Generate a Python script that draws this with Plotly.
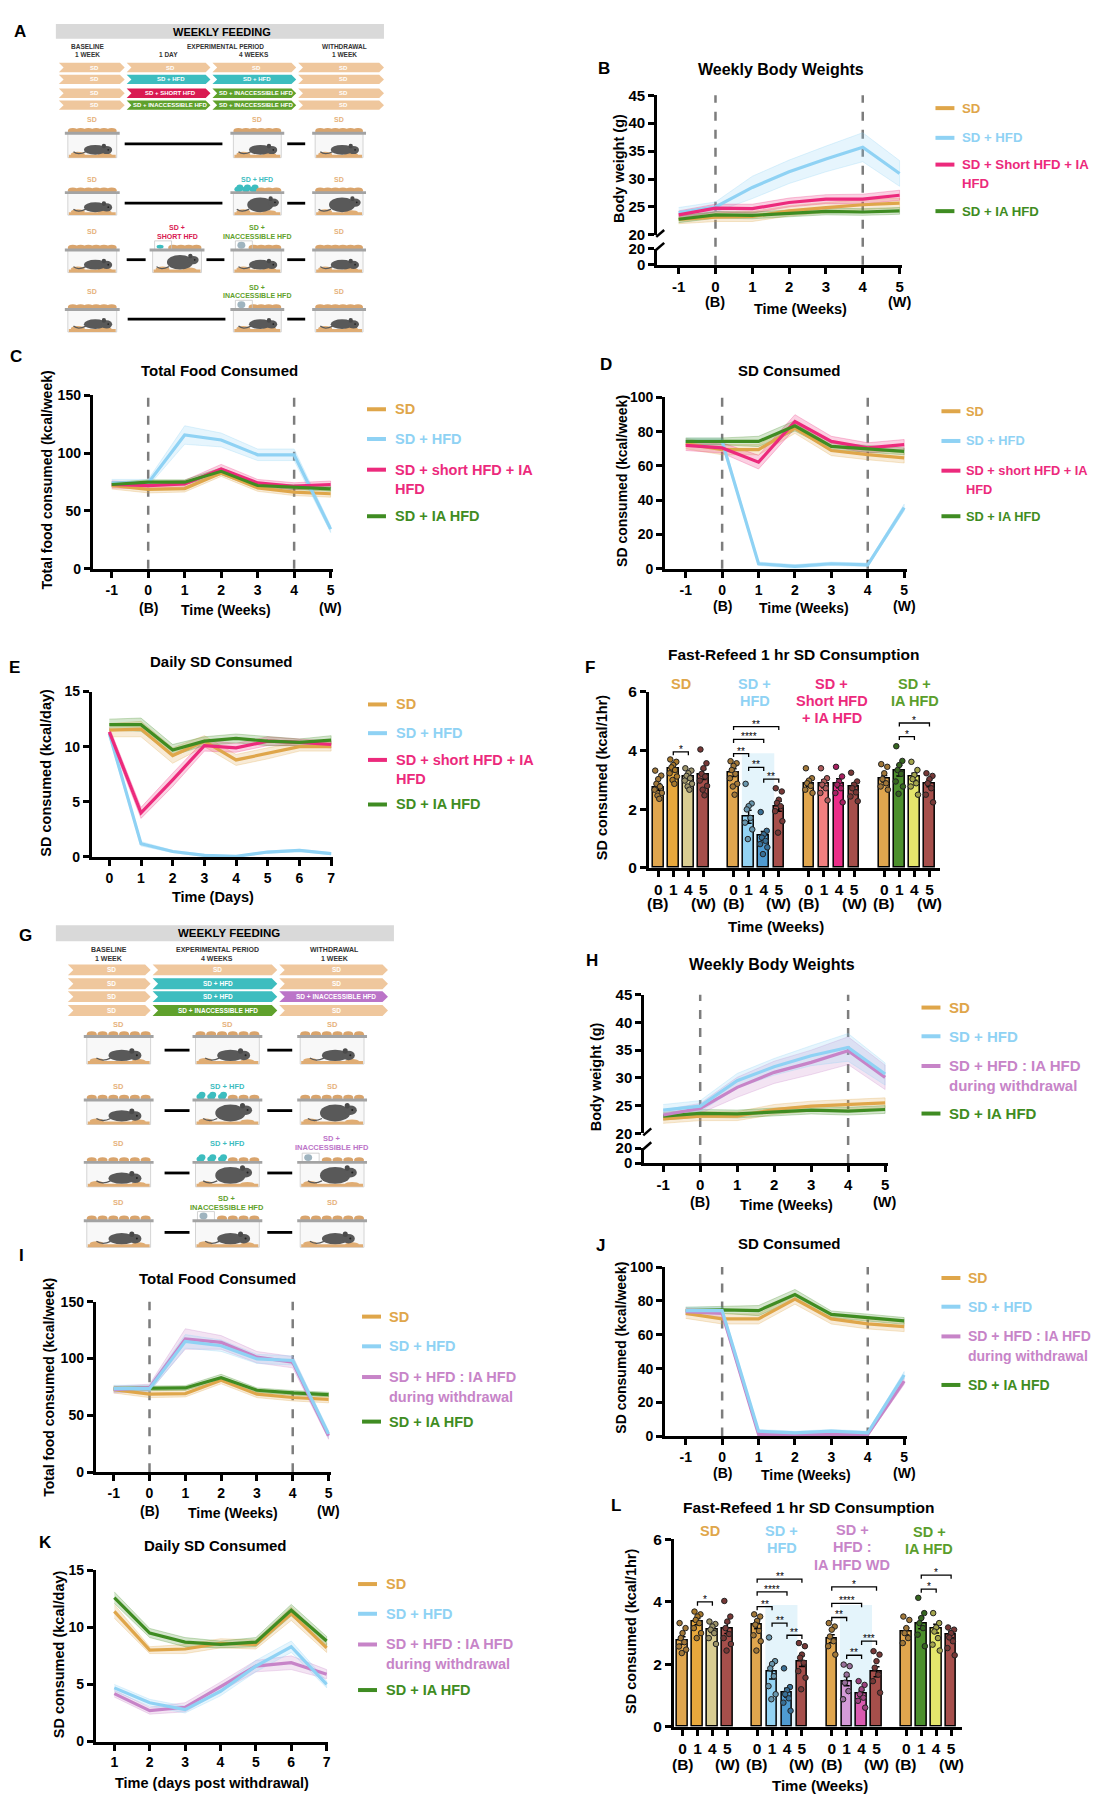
import plotly.graph_objects as go

# ---------------- data ----------------
WEEKS = [-1, 0, 1, 2, 3, 4, 5]
DAYS_E = [0, 1, 2, 3, 4, 5, 6, 7]
DAYS_K = [1, 2, 3, 4, 5, 6, 7]

# B: weekly body weights (g)
B_SD = [22.8, 23.2, 23.3, 24.3, 24.9, 25.4, 25.7]
B_SD_ERR = [0.8, 0.8, 0.9, 0.9, 0.9, 0.9, 0.9]
B_HFD = [24.0, 25.0, 28.5, 31.3, 33.6, 35.7, 31.0]
B_HFD_ERR = [0.9, 0.9, 2.0, 2.1, 2.3, 2.6, 2.3]
B_PINK = [23.6, 24.8, 24.7, 25.8, 26.4, 26.4, 27.1]
B_PINK_ERR = [0.7, 0.7, 0.8, 0.8, 0.8, 0.9, 0.9]
B_GREEN = [22.8, 23.6, 23.5, 23.9, 24.2, 24.1, 24.3]
B_GREEN_ERR = [0.6, 0.6, 0.6, 0.6, 0.6, 0.6, 0.6]

# C: total food consumed (kcal/week)
C_SD = [72.0, 68.6, 69.4, 82.9, 70.0, 66.3, 64.9]
C_SD_ERR = [3, 3, 3, 3, 3, 3, 3]
C_HFD = [74.3, 74.3, 115.7, 111.4, 98.6, 98.6, 34.3]
C_HFD_ERR = [3, 3, 8, 6, 5, 5, 3]
C_PINK = [72.9, 72.0, 73.4, 86.3, 74.3, 71.4, 72.9]
C_PINK_ERR = [3, 3, 3, 4, 3, 3, 3]
C_GREEN = [72.9, 74.9, 74.9, 84.3, 72.0, 70.6, 69.1]
C_GREEN_ERR = [2, 2, 2, 3, 2, 2, 2]

# D: SD consumed (kcal/week)
D_SD = [73.0, 69.5, 69.5, 82.0, 69.0, 66.6, 64.7]
D_SD_ERR = [3, 3, 3, 3, 3, 3, 3]
D_HFD = [74.3, 74.3, 2.9, 1.4, 2.9, 2.3, 35.7]
D_HFD_ERR = [2, 2, 1, 1, 1, 1, 2]
D_PINK = [72.0, 70.5, 62.2, 85.9, 74.3, 70.5, 72.4]
D_PINK_ERR = [3, 3, 4, 4, 3, 3, 3]
D_GREEN = [74.3, 74.3, 74.3, 83.4, 71.4, 69.9, 68.5]
D_GREEN_ERR = [2, 2, 3, 3, 2, 2, 2]

# E: daily SD consumed (kcal/day)
E_SD = [11.5, 11.6, 9.2, 10.5, 8.8, 9.4, 10.0, 10.0]
E_SD_ERR = [0.6, 0.7, 0.7, 0.5, 0.5, 0.5, 0.4, 0.4]
E_HFD = [11.2, 1.2, 0.5, 0.15, 0.06, 0.45, 0.6, 0.3]
E_HFD_ERR = [0.3, 0.2, 0.1, 0.1, 0.05, 0.1, 0.1, 0.1]
E_PINK = [11.35, 4.0, 7.0, 10.1, 9.9, 10.5, 10.4, 10.2]
E_PINK_ERR = [0.4, 0.5, 0.6, 0.5, 0.4, 0.4, 0.3, 0.3]
E_GREEN = [12.0, 12.0, 9.7, 10.5, 10.75, 10.5, 10.4, 10.6]
E_GREEN_ERR = [0.5, 0.6, 0.5, 0.4, 0.4, 0.4, 0.3, 0.4]

# H: weekly body weights (g)
H_SD = [22.6, 23.1, 23.1, 24.3, 24.9, 25.2, 25.5]
H_SD_ERR = [0.8, 0.8, 0.8, 0.9, 0.9, 0.9, 0.9]
H_HFD = [24.2, 24.9, 29.5, 32.0, 34.0, 35.5, 30.7]
H_HFD_ERR = [1.0, 1.0, 1.3, 1.5, 1.8, 2.5, 2.0]
H_PURPLE = [23.3, 24.5, 28.3, 31.0, 32.8, 34.9, 30.1]
H_PURPLE_ERR = [0.9, 0.9, 1.8, 2.0, 2.2, 2.5, 2.2]
H_GREEN = [23.1, 23.6, 23.5, 23.9, 24.2, 24.0, 24.3]
H_GREEN_ERR = [0.7, 0.7, 0.7, 0.7, 0.7, 0.7, 0.7]

# I: total food consumed (kcal/week)
I_SD = [72.7, 68.6, 69.2, 80.8, 68.6, 65.7, 64.0]
I_SD_ERR = [3, 3, 3, 3, 3, 3, 3]
I_HFD = [73.5, 73.5, 115.1, 111.3, 99.7, 98.3, 33.7]
I_HFD_ERR = [3, 3, 6, 5, 4, 4, 3]
I_PURPLE = [72.7, 74.4, 117.2, 114.2, 101.2, 96.8, 32.0]
I_PURPLE_ERR = [3, 3, 9, 6, 5, 5, 3]
I_GREEN = [73.5, 74.1, 74.1, 83.1, 72.1, 69.8, 68.3]
I_GREEN_ERR = [2, 2, 2, 3, 2, 2, 2]

# J: SD consumed (kcal/week)
J_SD = [72.7, 69.4, 69.4, 81.1, 69.4, 66.5, 64.9]
J_SD_ERR = [3, 3, 3, 3, 3, 3, 3]
J_HFD = [74.3, 74.3, 3.1, 2.1, 3.1, 2.1, 36.3]
J_HFD_ERR = [2, 2, 1, 1, 1, 1, 2]
J_PURPLE = [73.7, 72.7, 1.2, 1.2, 1.2, 1.2, 32.7]
J_PURPLE_ERR = [2, 2, 1, 1, 1, 1, 2]
J_GREEN = [74.3, 74.7, 74.3, 83.8, 72.1, 70.2, 68.2]
J_GREEN_ERR = [2, 2, 3, 3, 2, 2, 2]

# K: daily SD consumed post withdrawal (kcal/day)
K_SD = [11.4, 8.0, 8.1, 8.6, 8.5, 11.2, 8.2]
K_SD_ERR = [0.6, 0.3, 0.4, 0.4, 0.4, 0.6, 0.4]
K_HFD = [4.7, 3.4, 2.8, 4.4, 6.6, 8.3, 5.0]
K_HFD_ERR = [0.3, 0.3, 0.3, 0.4, 0.5, 0.5, 0.3]
K_PURPLE = [4.2, 2.7, 3.0, 4.8, 6.6, 6.9, 5.9]
K_PURPLE_ERR = [0.3, 0.3, 0.4, 0.4, 0.5, 0.6, 0.4]
K_GREEN = [12.6, 9.5, 8.7, 8.5, 8.7, 11.5, 8.8]
K_GREEN_ERR = [0.5, 0.4, 0.4, 0.3, 0.4, 0.5, 0.4]

# F / L: fast-refeed 1 hr SD consumption (kcal/1hr), 4 groups x weeks 0,1,4,5
BAR_WEEKS = ["0", "1", "4", "5"]
F_MEANS = [[2.75, 3.39, 3.10, 3.18], [3.24, 1.74, 1.09, 2.10],
           [2.88, 2.86, 2.88, 2.77], [3.03, 3.31, 3.10, 2.88]]
F_SEMS = [[0.12, 0.11, 0.08, 0.17], [0.13, 0.22, 0.15, 0.17],
          [0.10, 0.13, 0.15, 0.11], [0.11, 0.18, 0.12, 0.12]]
F_DOTS = [
    [[3.31, 3.14, 3.02, 2.86, 2.77, 2.66, 2.55, 2.46, 2.35],
     [3.69, 3.61, 3.50, 3.42, 3.33, 3.22, 3.11, 2.99, 2.86],
     [3.39, 3.31, 3.22, 3.13, 3.05, 2.97, 2.86, 2.77, 2.66],
     [4.03, 3.56, 3.39, 3.20, 3.11, 2.97, 2.79, 2.66, 2.47]],
    [[3.63, 3.56, 3.47, 3.33, 3.20, 3.05, 2.86, 2.77, 2.49],
     [2.86, 2.19, 2.10, 1.99, 1.70, 1.54, 1.31, 0.98],
     [1.90, 1.26, 1.14, 1.03, 0.92, 0.81, 0.70, 0.47],
     [2.71, 2.60, 2.32, 2.21, 2.10, 1.93, 1.59, 1.20]],
    [[3.39, 3.05, 2.97, 2.88, 2.79, 2.66, 2.55],
     [3.39, 3.05, 2.94, 2.83, 2.71, 2.55, 2.30],
     [3.44, 3.11, 2.94, 2.83, 2.71, 2.55, 2.23],
     [3.24, 2.94, 2.83, 2.71, 2.57, 2.43, 2.27]],
    [[3.53, 3.44, 3.22, 3.02, 2.88, 2.77, 2.66],
     [4.14, 3.64, 3.50, 3.33, 3.20, 2.94, 2.77, 2.52],
     [3.61, 3.33, 3.16, 3.02, 2.88, 2.77, 2.49],
     [3.22, 3.13, 3.02, 2.88, 2.71, 2.49, 2.23]],
]
F_BRACKETS = [(0, 1, 2, 3.95, "*"), (1, 0, 1, 3.89, "**"), (1, 0, 2, 4.37, "****"),
              (1, 0, 3, 4.81, "**"), (1, 1, 2, 3.42, "**"), (1, 2, 3, 3.02, "**"),
              (3, 1, 2, 4.47, "*"), (3, 1, 3, 4.93, "*")]

L_MEANS = [[2.76, 3.37, 3.10, 3.16], [3.27, 1.76, 1.09, 2.10],
           [2.82, 1.46, 1.06, 1.76], [3.05, 3.32, 3.14, 2.95]]
L_SEMS = [[0.12, 0.10, 0.08, 0.17], [0.13, 0.23, 0.14, 0.17],
          [0.13, 0.15, 0.10, 0.16], [0.11, 0.18, 0.14, 0.11]]
L_DOTS = [
    [[3.32, 3.16, 3.00, 2.84, 2.71, 2.57, 2.47, 2.36],
     [3.69, 3.60, 3.53, 3.42, 3.32, 3.16, 3.00, 2.84],
     [3.37, 3.29, 3.21, 3.11, 3.00, 2.84, 2.65],
     [4.03, 3.53, 3.37, 3.16, 2.97, 2.84, 2.65, 2.44]],
    [[3.60, 3.53, 3.39, 3.27, 3.07, 2.93, 2.74, 2.44],
     [2.86, 2.10, 2.01, 1.87, 1.62, 1.30, 1.04, 0.88],
     [1.87, 1.27, 1.17, 1.04, 0.91, 0.77, 0.51],
     [2.68, 2.58, 2.31, 2.21, 2.05, 1.78, 1.57, 1.20]],
    [[3.32, 3.21, 3.11, 2.89, 2.74, 2.58, 2.31],
     [1.99, 1.94, 1.67, 1.41, 1.14, 0.88],
     [1.46, 1.34, 1.20, 1.04, 0.93, 0.83, 0.61],
     [2.42, 2.31, 2.10, 1.89, 1.67, 1.46, 1.09]],
    [[3.53, 3.42, 3.16, 3.00, 2.84, 2.68],
     [4.13, 3.64, 3.48, 3.32, 3.16, 2.95, 2.58],
     [3.64, 3.32, 3.18, 3.05, 2.84, 2.63, 2.44],
     [3.18, 3.11, 3.00, 2.86, 2.74, 2.52, 2.29]],
]
L_BRACKETS = [(0, 1, 2, 4.00, "*"), (1, 0, 1, 3.85, "**"), (1, 0, 2, 4.32, "****"),
              (1, 0, 3, 4.73, "**"), (1, 1, 2, 3.32, "**"), (1, 2, 3, 2.93, "**"),
              (2, 0, 1, 3.50, "**"), (2, 0, 2, 3.95, "****"), (2, 0, 3, 4.48, "*"),
              (2, 1, 2, 2.29, "**"), (2, 2, 3, 2.74, "***"),
              (3, 1, 2, 4.41, "*"), (3, 1, 3, 4.86, "*")]

LEG_B = [["SD"], ["SD + HFD"], ["SD + Short HFD + IA", "HFD"], ["SD + IA HFD"]]
LEG_CDE = [["SD"], ["SD + HFD"], ["SD + short HFD + IA", "HFD"], ["SD + IA HFD"]]
LEG_WD = [["SD"], ["SD + HFD"], ["SD + HFD : IA HFD", "during withdrawal"], ["SD + IA HFD"]]
F_GROUPS = [["SD"], ["SD +", "HFD"], ["SD +", "Short HFD", "+ IA HFD"], ["SD +", "IA HFD"]]
L_GROUPS = [["SD"], ["SD +", "HFD"], ["SD +", "HFD :", "IA HFD WD"], ["SD +", "IA HFD"]]

# ---------------- style ----------------
W, H = 1102, 1800
FONT = "Liberation Sans, Arial, Helvetica, sans-serif"
CLR_SD = "#dfa64a"
CLR_HFD = "#8fd2f4"
CLR_PINK = "#ec2a7c"
CLR_GREEN = "#3f8c22"
CLR_PURPLE = "#c784c8"
TAN = "#efc79d"
TANTXT = "#e6b27c"
TEAL = "#3dbdbf"
CRIMSON = "#d91a52"
LGREEN = "#5fa12c"
ORCHID = "#bb74c8"
F_COLORS = [["#e0a64e", "#e8a83c", "#d9cd92", "#a64f4b"],
            ["#e0a64e", "#93d3f3", "#4f9bd1", "#a64f4b"],
            ["#e0a64e", "#f27f7f", "#ea2d88", "#a64f4b"],
            ["#e0a64e", "#4c8f2c", "#e5e66c", "#a64f4b"]]
L_COLORS = [["#e0a64e", "#e8a83c", "#d9cd92", "#a64f4b"],
            ["#e0a64e", "#93d3f3", "#4f9bd1", "#a64f4b"],
            ["#e0a64e", "#d49bd8", "#da5bb1", "#a64f4b"],
            ["#e0a64e", "#4c8f2c", "#e5e66c", "#a64f4b"]]
F_GROUP_COLORS = [CLR_SD, CLR_HFD, CLR_PINK, "#5a9e2c"]
L_GROUP_COLORS = [CLR_SD, CLR_HFD, CLR_PURPLE, "#5a9e2c"]
LEG_COLORS_1 = [CLR_SD, CLR_HFD, CLR_PINK, CLR_GREEN]
LEG_COLORS_2 = [CLR_SD, CLR_HFD, CLR_PURPLE, CLR_GREEN]


def X(v):
    return v / W


def Y(v):
    return 1 - v / H


def rgba(hexc, a):
    h = hexc.lstrip("#")
    r, g, b = int(h[0:2], 16), int(h[2:4], 16), int(h[4:6], 16)
    return f"rgba({r},{g},{b},{a})"


def darker(hexc, f=0.72):
    h = hexc.lstrip("#")
    r, g, b = int(h[0:2], 16), int(h[2:4], 16), int(h[4:6], 16)
    return f"rgb({int(r*f)},{int(g*f)},{int(b*f)})"


fig = go.Figure()
layout = {}
shapes = []
annots = []
nax = [0]


def new_id():
    nax[0] += 1
    return nax[0]


def xa(n):
    return "xaxis" if n == 1 else f"xaxis{n}"


def ya(n):
    return "yaxis" if n == 1 else f"yaxis{n}"


def xr(n):
    return "x" if n == 1 else f"x{n}"


def yr(n):
    return "y" if n == 1 else f"y{n}"


def text(x, y, s, size=14, color="black", bold=True, xanchor="center",
         yanchor="middle", angle=0):
    annots.append(dict(x=X(x), y=Y(y), xref="paper", yref="paper",
                       text=f"<b>{s}</b>" if bold else s, showarrow=False,
                       font=dict(family=FONT, size=size, color=color),
                       xanchor=xanchor, yanchor=yanchor, textangle=angle,
                       borderpad=0))


def rect(x0, y0, x1, y1, fill, line=None, lw=0, layer="above"):
    shapes.append(dict(type="rect", xref="paper", yref="paper", x0=X(x0), x1=X(x1),
                       y0=Y(y1), y1=Y(y0), fillcolor=fill,
                       line=dict(color=line or fill, width=lw), layer=layer))


def oval(x0, y0, x1, y1, fill):
    shapes.append(dict(type="circle", xref="paper", yref="paper", x0=X(x0), x1=X(x1),
                       y0=Y(y1), y1=Y(y0), fillcolor=fill, line=dict(width=0)))


def seg(x0, y0, x1, y1, color="black", w=2.5, dash=None):
    ln = dict(color=color, width=w)
    if dash:
        ln["dash"] = dash
    shapes.append(dict(type="line", xref="paper", yref="paper", x0=X(x0), x1=X(x1),
                       y0=Y(y0), y1=Y(y1), line=ln))


def axis_style(tickvals, ticktext, size=14):
    return dict(showline=True, linewidth=3, linecolor="black", ticks="outside",
                ticklen=6, tickwidth=2.5, tickcolor="black", tickvals=tickvals,
                ticktext=[f"<b>{t}</b>" for t in ticktext],
                tickfont=dict(family=FONT, size=size, color="black"),
                showgrid=False, zeroline=False, fixedrange=True)


def line_panel(ax_x, xt, ybox, yticks, series, xticks, vlines, lower=None, fs=14):
    p0, v0, p1, v1, right = xt
    ybot, vb, ytop, vt = ybox
    n = new_id()
    unit = (p1 - p0) / (v1 - v0)
    xrng = [v0 - (p0 - ax_x) / unit, v1 + (right - p1) / unit]
    xdom = [X(ax_x), X(right)]
    layout[xa(n)] = dict(domain=xdom, range=xrng, anchor=yr(n),
                         **axis_style(xticks, [str(v) for v in xticks], fs))
    if lower is None:
        layout[ya(n)] = dict(domain=[Y(ybot), Y(ytop)], range=[vb, vt], anchor=xr(n),
                             **axis_style(yticks, [str(v) for v in yticks], fs))
        dx, dy = xr(n), yr(n)
        base = ybot
    else:
        lb, lvb, lt, lvt, lticks = lower
        layout[ya(n)] = dict(domain=[Y(lb), Y(lt)], range=[lvb, lvt], anchor=xr(n),
                             **axis_style(lticks, [str(v) for v in lticks], fs))
        fig.add_trace(go.Scatter(x=[xrng[0]], y=[lvb - 5], mode="markers",
                                 marker=dict(opacity=0), xaxis=xr(n), yaxis=yr(n),
                                 hoverinfo="skip", showlegend=False))
        m = new_id()
        layout[xa(m)] = dict(domain=xdom, range=xrng, anchor=yr(m), visible=False,
                             fixedrange=True)
        layout[ya(m)] = dict(domain=[Y(ybot), Y(ytop)], range=[vb, vt], anchor=xr(m),
                             **axis_style(yticks, [str(v) for v in yticks], fs))
        dx, dy = xr(m), yr(m)
        base = lb
        seg(ax_x - 1, ybot + 2, ax_x + 7, ybot - 5, "black", 2.5)
        seg(ax_x - 1, lt + 1, ax_x + 7, lt - 6, "black", 2.5)
    for v in vlines:
        shapes.append(dict(type="line", xref=dx, yref="paper", x0=v, x1=v,
                           y0=Y(base), y1=Y(ytop), layer="below",
                           line=dict(color="#7d7d7d", width=2.5, dash="dash")))
    for xs, ys, es, color in series:
        up = [a + e for a, e in zip(ys, es)]
        lo = [a - e for a, e in zip(ys, es)]
        fig.add_trace(go.Scatter(x=list(xs) + list(xs)[::-1], y=up + lo[::-1],
                                 fill="toself", fillcolor=rgba(color, 0.22),
                                 line=dict(color=rgba(color, 0.35), width=0.8),
                                 mode="lines", xaxis=dx, yaxis=dy,
                                 hoverinfo="skip", showlegend=False))
    for xs, ys, es, color in series:
        fig.add_trace(go.Scatter(x=xs, y=ys, mode="lines",
                                 line=dict(color=color, width=3.2),
                                 xaxis=dx, yaxis=dy, showlegend=False))
    return n


def legend(lx0, tx, ys, labels, colors, size=14.5):
    for yy, lines, color in zip(ys, labels, colors):
        seg(lx0, yy[0], lx0 + 19, yy[0], color, 4)
        for y1, t in zip(yy, lines):
            text(tx, y1, t, size, color, xanchor="left")


DOT_OFFS = [-0.2, 0.2, 0.0, -0.12, 0.12, -0.24, 0.24, -0.05, 0.07]


def bar_panel(ax_x, x0px, unit, right, ybot, ytop, means, sems, dots, colors,
              brackets, shades, bw_y):
    n = new_id()
    xrng = [(ax_x - x0px) / unit, (right - x0px) / unit]
    tv, tt = [], []
    for g in range(4):
        for j in range(4):
            tv.append(5 * g + j)
            tt.append(BAR_WEEKS[j])
    layout[xa(n)] = dict(domain=[X(ax_x), X(right)], range=xrng, anchor=yr(n),
                         **axis_style(tv, tt, 15.5))
    layout[ya(n)] = dict(domain=[Y(ybot), Y(ytop)], range=[0, 6], anchor=xr(n),
                         **axis_style([0, 2, 4, 6], ["0", "2", "4", "6"], 15.5))
    for g in shades:
        shapes.append(dict(type="rect", xref=xr(n), yref=yr(n), x0=5 * g + 0.55,
                           x1=5 * g + 2.7, y0=0, y1=3.9, fillcolor="#e4f4fb",
                           line=dict(width=0), layer="below"))
    xs, ms, ss, cs = [], [], [], []
    for g in range(4):
        for j in range(4):
            xs.append(5 * g + j)
            ms.append(means[g][j])
            ss.append(sems[g][j])
            cs.append(colors[g][j])
    fig.add_trace(go.Bar(x=xs, y=ms, width=0.7,
                         marker=dict(color=cs, line=dict(color="black", width=1.5)),
                         error_y=dict(type="data", array=ss, color="black",
                                      thickness=1.5, width=3),
                         xaxis=xr(n), yaxis=yr(n), showlegend=False))
    dx, dyv, dc = [], [], []
    for g in range(4):
        for j in range(4):
            for k, v in enumerate(dots[g][j]):
                dx.append(5 * g + j + DOT_OFFS[k % len(DOT_OFFS)])
                dyv.append(v)
                dc.append(darker(colors[g][j]))
    fig.add_trace(go.Scatter(x=dx, y=dyv, mode="markers",
                             marker=dict(size=5.5, color=dc,
                                         line=dict(color="#222", width=1)),
                             xaxis=xr(n), yaxis=yr(n), showlegend=False))
    for g, j1, j2, yv, stars in brackets:
        a, b = 5 * g + j1, 5 * g + j2
        shapes.append(dict(type="path", xref=xr(n), yref=yr(n),
                           path=f"M {a},{yv-0.12} L {a},{yv} L {b},{yv} L {b},{yv-0.12}",
                           line=dict(color="black", width=1.3)))
        annots.append(dict(x=(a + b) / 2, y=yv, xref=xr(n), yref=yr(n), text=stars,
                           showarrow=False, yanchor="bottom", yshift=-5,
                           font=dict(family=FONT, size=10, color="black")))
    for g in range(4):
        text(x0px + unit * (5 * g), bw_y, "(B)", 15.5)
        text(x0px + unit * (5 * g + 3), bw_y, "(W)", 15.5)
    return n


# ---------------- schematic helpers ----------------
def arrow(x0, x1, yc, h, color, label, fs):
    k = h * 0.5
    path = (f"M {X(x0)},{Y(yc-h/2)} L {X(x1-k)},{Y(yc-h/2)} L {X(x1)},{Y(yc)} "
            f"L {X(x1-k)},{Y(yc+h/2)} L {X(x0)},{Y(yc+h/2)} L {X(x0+k)},{Y(yc)} Z")
    shapes.append(dict(type="path", xref="paper", yref="paper", path=path,
                       fillcolor=color, line=dict(width=0)))
    text((x0 + x1) / 2 + k / 2, yc, label, fs, "white")


def mouse(cx, by, s, obese):
    col = "#595959"
    bw = 12 * s * (1.15 if obese else 1.0)
    bh = 5.2 * s * (1.5 if obese else 1.0)
    shapes.append(dict(type="path", xref="paper", yref="paper",
                       path=(f"M {X(cx-bw+2)},{Y(by-3)} Q {X(cx-bw-6)},{Y(by+1)} "
                             f"{X(cx-bw-11*s)},{Y(by-3)}"),
                       line=dict(color=col, width=1.3)))
    oval(cx - bw, by - 2 * bh, cx + bw, by, col)
    hr = 4.6 * s
    hx, hy = cx + bw - 1, by - 2 * bh + hr + 1
    oval(hx - hr, hy - hr, hx + hr * 1.5, hy + hr * 0.9, col)
    oval(hx - hr * 0.9, hy - hr * 1.5, hx + hr * 0.1, hy - hr * 0.4, "#4a4a4a")
    oval(hx + hr * 0.4, hy - hr * 0.3, hx + hr * 0.8, hy + hr * 0.1, "#222")


def cage(x0, x1, ylid, ybot, obese=False, food=None, s=1.0):
    wdt = x1 - x0
    rect(x0 + 3, ylid, x1 - 3, ybot, "rgba(236,236,236,0.35)", "#d4d4d4", 1)
    nb = 6
    for i in range(nb):
        cx = x0 + 8 + i * (wdt - 16) / (nb - 1)
        if food == "hfd" and i < 3:
            oval(cx - 4, ylid - 6, cx + 4, ylid, TEAL)
            oval(cx - 2, ylid - 8, cx + 5, ylid - 2, TEAL)
        elif food in ("inacc", "short") and i < 2:
            continue
        else:
            oval(cx - 5, ylid - 5, cx + 5, ylid + 1, "#d9a46c")
    if food in ("inacc", "short"):
        bx = x0 + 10
        rect(bx - 5, ylid - 9, bx + 12, ylid, "rgba(0,0,0,0)", "#c8c8c8", 0.8)
        if food == "inacc":
            oval(bx - 3, ylid - 8, bx + 5, ylid - 1, "#9fb4bf")
        else:
            oval(bx - 3, ylid - 5, bx + 4, ylid - 1, TEAL)
    rect(x0, ylid - 1.2, x1, ylid + 1.8, "#a3a3a3")
    rect(x0 + 4, ybot - 3, x1 - 4, ybot, "#e0ad74")
    oval(x0 + 6, ybot - 6, x0 + 20, ybot - 1, "#e0ad74")
    oval(x1 - 22, ybot - 5, x1 - 8, ybot - 1, "#e0ad74")
    mouse((x0 + x1) / 2 + 3, ybot - 3, s, obese)


def cage_label(xc, yc, lines, color, fs):
    if len(lines) == 1:
        text(xc, yc, lines[0], fs, color)
    else:
        text(xc, yc - fs * 0.6, lines[0], fs, color)
        text(xc, yc + fs * 0.6, lines[1], fs, color)


# ---------------- Panel A ----------------
text(12, 15, "A", 17)
rect(48, 7, 377, 22, "#d9d9d9")
text(215, 15, "WEEKLY FEEDING", 11)
for x, l1, l2 in [(80, "BASELINE", "1 WEEK"), (218, "EXPERIMENTAL PERIOD", None),
                  (337, "WITHDRAWAL", "1 WEEK")]:
    text(x, 29.5, l1, 6.5, "#333")
    if l2:
        text(x, 38, l2, 6.5, "#333")
text(161, 38, "1 DAY", 6.5, "#333")
text(247, 38, "4 WEEKS", 6.5, "#333")
A_COLS = [(51, 117), (119, 203), (205, 289), (291, 377)]
A_ROWY = [51, 63, 77, 89]
A_ROWS = [["SD", "SD", "SD", "SD"],
          ["SD", "SD + HFD", "SD + HFD", "SD"],
          ["SD", "SD + SHORT HFD", "SD + INACCESSIBLE HFD", "SD"],
          ["SD", "SD + INACCESSIBLE HFD", "SD + INACCESSIBLE HFD", "SD"]]
A_ROWC = [[TAN] * 4, [TAN, TEAL, TEAL, TAN], [TAN, CRIMSON, LGREEN, TAN],
          [TAN, LGREEN, LGREEN, TAN]]
for r in range(4):
    for c in range(4):
        arrow(A_COLS[c][0], A_COLS[c][1], A_ROWY[r], 9.5, A_ROWC[r][c], A_ROWS[r][c], 6)

A_CX = [(57, 112), (142, 197), (223, 277), (305, 359)]
A_CR = [(103, 117, 142, 128), (164, 177, 200, 188), (217, 235, 258, 245),
        (277, 295, 318, 305)]
A_CAGES = [
    (0, 0, ["SD"], TANTXT, None, False), (0, 2, ["SD"], TANTXT, None, False),
    (0, 3, ["SD"], TANTXT, None, False),
    (1, 0, ["SD"], TANTXT, None, False), (1, 2, ["SD + HFD"], TEAL, "hfd", True),
    (1, 3, ["SD"], TANTXT, None, True),
    (2, 0, ["SD"], TANTXT, None, False), (2, 1, ["SD +", "SHORT HFD"], CRIMSON, "short", True),
    (2, 2, ["SD +", "INACCESSIBLE HFD"], LGREEN, "inacc", False),
    (2, 3, ["SD"], TANTXT, None, False),
    (3, 0, ["SD"], TANTXT, None, False),
    (3, 2, ["SD +", "INACCESSIBLE HFD"], LGREEN, "inacc", False),
    (3, 3, ["SD"], TANTXT, None, False),
]
for r, c, lab, col, food, ob in A_CAGES:
    x0, x1 = A_CX[c]
    ly, lid, bot, _ = A_CR[r]
    cage(x0, x1, lid, bot, ob, food, 0.95)
    cage_label((x0 + x1) / 2, ly, lab, col, 7)
A_LINES = [[(117, 215), (280, 298)], [(117, 215), (280, 298)],
           [(119, 138), (199, 217), (280, 298)], [(120, 218), (280, 298)]]
for r in range(4):
    for a, b in A_LINES[r]:
        seg(a, A_CR[r][3], b, A_CR[r][3], "black", 2.8)

# ---------------- Panel G ----------------
text(18, 927, "G", 17)
rect(48, 917, 387, 933, "#d9d9d9")
text(222, 925, "WEEKLY FEEDING", 11.5)
for x, l1, l2 in [(101, "BASELINE", "1 WEEK"), (210, "EXPERIMENTAL PERIOD", "4 WEEKS"),
                  (327, "WITHDRAWAL", "1 WEEK")]:
    text(x, 941, l1, 7, "#333")
    text(x, 950, l2, 7, "#333")
G_COLS = [(60, 143), (145, 270), (272, 381)]
G_ROWY = [962, 976, 989, 1003]
G_ROWS = [["SD", "SD", "SD"], ["SD", "SD + HFD", "SD"],
          ["SD", "SD + HFD", "SD + INACCESSIBLE HFD"],
          ["SD", "SD + INACCESSIBLE HFD", "SD"]]
G_ROWC = [[TAN] * 3, [TAN, TEAL, TAN], [TAN, TEAL, ORCHID], [TAN, LGREEN, TAN]]
for r in range(4):
    for c in range(3):
        arrow(G_COLS[c][0], G_COLS[c][1], G_ROWY[r], 11, G_ROWC[r][c], G_ROWS[r][c], 6.5)
G_CX = [(76, 146), (185, 255), (290, 360)]
G_CR = [(1017, 1029, 1057, 1043), (1080, 1093, 1118, 1104), (1137, 1156, 1181, 1167),
        (1197, 1215, 1242, 1227)]
G_CAGES = [
    (0, 0, ["SD"], TANTXT, None, False), (0, 1, ["SD"], TANTXT, None, False),
    (0, 2, ["SD"], TANTXT, None, False),
    (1, 0, ["SD"], TANTXT, None, False), (1, 1, ["SD + HFD"], TEAL, "hfd", True),
    (1, 2, ["SD"], TANTXT, None, True),
    (2, 0, ["SD"], TANTXT, None, False), (2, 1, ["SD + HFD"], TEAL, "hfd", True),
    (2, 2, ["SD +", "INACCESSIBLE HFD"], ORCHID, "inacc", True),
    (3, 0, ["SD"], TANTXT, None, False),
    (3, 1, ["SD +", "INACCESSIBLE HFD"], LGREEN, "inacc", False),
    (3, 2, ["SD"], TANTXT, None, False),
]
for r, c, lab, col, food, ob in G_CAGES:
    x0, x1 = G_CX[c]
    ly, lid, bot, _ = G_CR[r]
    cage(x0, x1, lid, bot, ob, food, 1.1)
    cage_label((x0 + x1) / 2, ly, lab, col, 7.5)
for r in range(4):
    for a, b in [(157, 182), (260, 285)]:
        seg(a, G_CR[r][3], b, G_CR[r][3], "black", 2.8)

# ---------------- Panel B ----------------
line_panel(651, (672.5, -1, 894, 5, 896), (220, 20, 79, 45), [20, 25, 30, 35, 40, 45],
           [(WEEKS, B_SD, B_SD_ERR, CLR_SD), (WEEKS, B_HFD, B_HFD_ERR, CLR_HFD),
            (WEEKS, B_PINK, B_PINK_ERR, CLR_PINK), (WEEKS, B_GREEN, B_GREEN_ERR, CLR_GREEN)],
           WEEKS, [0, 4], lower=(250, 0, 234, 20, [0, 20]), fs=15)
text(598, 52, "B", 17)
text(775, 53, "Weekly Body Weights", 16)
text(612, 153, "Body weight (g)", 14.5, angle=-90)
text(709.4, 288, "(B)", 14.5)
text(894, 288, "(W)", 14.5)
text(795, 295, "Time (Weeks)", 14.5)
legend(930, 956, [[92], [122], [149, 168], [196]], LEG_B, LEG_COLORS_1, 13.2)

# ---------------- Panel C ----------------
line_panel(85, (104, -1, 323.5, 5, 326), (557, 0, 382, 150), [0, 50, 100, 150],
           [(WEEKS, C_SD, C_SD_ERR, CLR_SD), (WEEKS, C_HFD, C_HFD_ERR, CLR_HFD),
            (WEEKS, C_PINK, C_PINK_ERR, CLR_PINK), (WEEKS, C_GREEN, C_GREEN_ERR, CLR_GREEN)],
           WEEKS, [0, 4])
text(8, 343, "C", 17)
text(212, 357, "Total Food Consumed", 15)
text(39, 467, "Total food consumed (kcal/week)", 14, angle=-90)
text(140.6, 597, "(B)", 14)
text(323.5, 597, "(W)", 14)
text(219, 599, "Time (Weeks)", 14)
legend(360, 387, [[396], [426], [457, 477], [504]], LEG_CDE, LEG_COLORS_1, 14.5)

# ---------------- Panel D ----------------
line_panel(659, (679.6, -1, 898.6, 5, 901), (557, 0, 384, 100), [0, 20, 40, 60, 80, 100],
           [(WEEKS, D_SD, D_SD_ERR, CLR_SD), (WEEKS, D_HFD, D_HFD_ERR, CLR_HFD),
            (WEEKS, D_PINK, D_PINK_ERR, CLR_PINK), (WEEKS, D_GREEN, D_GREEN_ERR, CLR_GREEN)],
           WEEKS, [0, 4])
text(600, 351, "D", 17)
text(784, 357, "SD Consumed", 15)
text(615, 468, "SD consumed (kcal/week)", 14, angle=-90)
text(716, 595, "(B)", 14)
text(898.6, 595, "(W)", 14)
text(798, 597, "Time (Weeks)", 14)
legend(936, 960, [[398], [428], [458, 477], [504]], LEG_CDE, LEG_COLORS_1, 12.8)

# ---------------- Panel E ----------------
line_panel(84, (101.6, 0, 324, 7, 326), (848, 0, 681, 15), [0, 5, 10, 15],
           [(DAYS_E, E_SD, E_SD_ERR, CLR_SD), (DAYS_E, E_HFD, E_HFD_ERR, CLR_HFD),
            (DAYS_E, E_PINK, E_PINK_ERR, CLR_PINK), (DAYS_E, E_GREEN, E_GREEN_ERR, CLR_GREEN)],
           DAYS_E, [])
text(7, 657, "E", 17)
text(214, 651, "Daily SD Consumed", 15)
text(38, 763, "SD consumed (kcal/day)", 14.5, angle=-90)
text(206, 888, "Time (Days)", 14.5)
legend(361, 388, [[694], [723], [750, 769], [795]], LEG_CDE, LEG_COLORS_1, 14.5)

# ---------------- Panel F ----------------
bar_panel(642.7, 652, 15.11, 935, 859, 681, F_MEANS, F_SEMS, F_DOTS, F_COLORS,
          F_BRACKETS, [1], 895)
text(584, 657, "F", 17)
text(788, 644, "Fast-Refeed 1 hr SD Consumption", 15.5)
text(595, 768, "SD consumed (kcal/1hr)", 14.5, angle=-90)
text(770, 918, "Time (Weeks)", 15)
F_GX = [675, 749, 826, 909]
for g in range(4):
    for k, t in enumerate(F_GROUPS[g]):
        text(F_GX[g], 673 + 17.5 * k, t, 14.5, F_GROUP_COLORS[g])

# ---------------- Panel H ----------------
line_panel(638, (657, -1, 879.5, 5, 882), (1127, 20, 987, 45), [20, 25, 30, 35, 40, 45],
           [(WEEKS, H_SD, H_SD_ERR, CLR_SD), (WEEKS, H_GREEN, H_GREEN_ERR, CLR_GREEN),
            (WEEKS, H_PURPLE, H_PURPLE_ERR, CLR_PURPLE), (WEEKS, H_HFD, H_HFD_ERR, CLR_HFD)],
           WEEKS, [0, 4], lower=(1157, 0, 1142, 20, [0, 20]), fs=15)
text(586, 953, "H", 17)
text(766, 957, "Weekly Body Weights", 16)
text(590, 1070, "Body weight (g)", 14.5, angle=-90)
text(694, 1196, "(B)", 14.5)
text(879.5, 1196, "(W)", 14.5)
text(781, 1199, "Time (Weeks)", 14.5)
legend(916, 943, [[1000], [1029], [1059, 1079], [1107]], LEG_WD, LEG_COLORS_2, 15)

# ---------------- Panel I ----------------
line_panel(88, (106, -1, 321.4, 5, 324), (1469, 0, 1297, 150), [0, 50, 100, 150],
           [(WEEKS, I_SD, I_SD_ERR, CLR_SD), (WEEKS, I_GREEN, I_GREEN_ERR, CLR_GREEN),
            (WEEKS, I_PURPLE, I_PURPLE_ERR, CLR_PURPLE), (WEEKS, I_HFD, I_HFD_ERR, CLR_HFD)],
           WEEKS, [0, 4])
text(14, 1250, "I", 17)
text(210, 1274, "Total Food Consumed", 15)
text(41, 1383, "Total food consumed (kcal/week)", 14, angle=-90)
text(142, 1508, "(B)", 14)
text(321.4, 1508, "(W)", 14)
text(226, 1510, "Time (Weeks)", 14)
legend(355, 381, [[1312], [1342], [1373, 1393], [1418]], LEG_WD, LEG_COLORS_2, 14.5)

# ---------------- Panel J ----------------
line_panel(659, (679.6, -1, 898.6, 5, 901), (1433, 0, 1262, 100), [0, 20, 40, 60, 80, 100],
           [(WEEKS, J_SD, J_SD_ERR, CLR_SD), (WEEKS, J_GREEN, J_GREEN_ERR, CLR_GREEN),
            (WEEKS, J_PURPLE, J_PURPLE_ERR, CLR_PURPLE), (WEEKS, J_HFD, J_HFD_ERR, CLR_HFD)],
           WEEKS, [0, 4])
text(594, 1240, "J", 17)
text(784, 1238, "SD Consumed", 15)
text(615, 1343, "SD consumed (kcal/week)", 14, angle=-90)
text(716, 1470, "(B)", 14)
text(898.6, 1470, "(W)", 14)
text(800, 1472, "Time (Weeks)", 14)
legend(936, 962, [[1273], [1302], [1332, 1352], [1381]], LEG_WD, LEG_COLORS_2, 14)

# ---------------- Panel K ----------------
line_panel(88, (106.6, 1, 319.5, 7, 321), (1741, 0, 1568, 15), [0, 5, 10, 15],
           [(DAYS_K, K_SD, K_SD_ERR, CLR_SD), (DAYS_K, K_GREEN, K_GREEN_ERR, CLR_GREEN),
            (DAYS_K, K_PURPLE, K_PURPLE_ERR, CLR_PURPLE), (DAYS_K, K_HFD, K_HFD_ERR, CLR_HFD)],
           DAYS_K, [])
text(38, 1540, "K", 17)
text(208, 1543, "Daily SD Consumed", 15)
text(52, 1653, "SD consumed (kcal/day)", 14.5, angle=-90)
text(205, 1783, "Time (days post withdrawal)", 14.5)
legend(351, 378, [[1582], [1612], [1643, 1663], [1689]], LEG_WD, LEG_COLORS_2, 14.5)

# ---------------- Panel L ----------------
bar_panel(667.7, 676.4, 14.96, 956.8, 1726, 1537, L_MEANS, L_SEMS, L_DOTS, L_COLORS,
          L_BRACKETS, [1, 2], 1764)
text(610, 1503, "L", 17)
text(803, 1505, "Fast-Refeed 1 hr SD Consumption", 15.5)
text(624, 1630, "SD consumed (kcal/1hr)", 14.5, angle=-90)
text(814, 1785, "Time (Weeks)", 15)
L_GX = [704, 776, 846.6, 924]
L_GY = [1528, 1528, 1527, 1529]
for g in range(4):
    for k, t in enumerate(L_GROUPS[g]):
        text(L_GX[g], L_GY[g] + 18 * k, t, 14.5, L_GROUP_COLORS[g])

layout.update(dict(width=W, height=H, margin=dict(l=0, r=0, t=0, b=0),
                   paper_bgcolor="white", plot_bgcolor="rgba(0,0,0,0)",
                   showlegend=False, shapes=shapes, annotations=annots,
                   font=dict(family=FONT), bargap=0))
fig.update_layout(**layout)
fig.write_html("out.html")
